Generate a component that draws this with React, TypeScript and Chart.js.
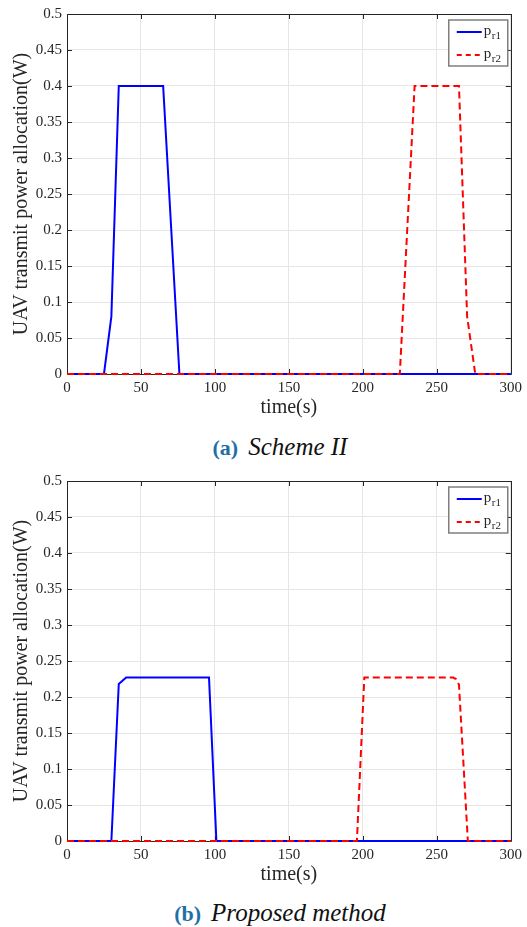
import React, { useEffect, useRef } from "react";
import { Chart, registerables } from "chart.js";

Chart.register(...registerables);

// ---------- data ----------
const legendBase = ["p", "p"];
const legendSub = ["r1", "r2"];
const seriesColors = ["#0000ff", "#ff0000"];

const xTicks = [0, 50, 100, 150, 200, 250, 300];
const yTicks = [0, 0.05, 0.1, 0.15, 0.2, 0.25, 0.3, 0.35, 0.4, 0.45, 0.5];
const xTickLabels = ["0", "50", "100", "150", "200", "250", "300"];
const yTickLabels = ["0", "0.05", "0.1", "0.15", "0.2", "0.25", "0.3", "0.35", "0.4", "0.45", "0.5"];

// (a) Scheme II
const schemeTime1 = [0, 25, 30, 35, 65, 76, 300];
const schemePower1 = [0, 0, 0.08, 0.4, 0.4, 0, 0];
const schemeTime2 = [0, 225, 235, 265, 270.5, 276, 300];
const schemePower2 = [0, 0, 0.4, 0.4, 0.08, 0, 0];

// (b) Proposed method
const proposedTime1 = [0, 30, 35, 40, 96, 101, 300];
const proposedPower1 = [0, 0, 0.218, 0.227, 0.227, 0, 0];
const proposedTime2 = [0, 196, 201, 261, 263, 265, 271, 300];
const proposedPower2 = [0, 0, 0.227, 0.227, 0.225, 0.217, 0, 0];

const FONT = "'Liberation Serif', 'Times New Roman', serif";
const INK = "#262626";

const framePlugin = {
  id: "matlabFrame",
  beforeDatasetsDraw(chart: any) {
    const { ctx, chartArea: a, scales } = chart;
    const tl = 5;
    ctx.save();
    ctx.strokeStyle = INK;
    ctx.lineWidth = 1;
    ctx.beginPath();
    for (const v of xTicks) {
      const x = Math.round(scales.x.getPixelForValue(v)) + 0.5;
      ctx.moveTo(x, a.bottom);
      ctx.lineTo(x, a.bottom - tl);
      ctx.moveTo(x, a.top);
      ctx.lineTo(x, a.top + tl);
    }
    for (const v of yTicks) {
      const y = Math.round(scales.y.getPixelForValue(v)) + 0.5;
      ctx.moveTo(a.left, y);
      ctx.lineTo(a.left + tl, y);
      ctx.moveTo(a.right, y);
      ctx.lineTo(a.right - tl, y);
    }
    ctx.stroke();
    ctx.beginPath();
    ctx.rect(Math.round(a.left) + 0.5, Math.round(a.top) + 0.5, Math.round(a.right - a.left), Math.round(a.bottom - a.top));
    ctx.stroke();
    ctx.restore();
  },
  afterDraw(chart: any) {
    const { ctx, chartArea: a } = chart;
    const bx = a.right - 62;
    const by = a.top + 6;
    const bw = 59;
    const bh = 46;
    ctx.save();
    ctx.fillStyle = "#ffffff";
    ctx.fillRect(bx, by, bw, bh);
    ctx.strokeStyle = "#7f7f7f";
    ctx.lineWidth = 1.5;
    ctx.strokeRect(bx, by, bw, bh);
    for (let i = 0; i < 2; i++) {
      const y = by + 12 + i * 23;
      ctx.strokeStyle = seriesColors[i];
      ctx.lineWidth = 2;
      ctx.setLineDash(i === 1 ? [5, 4] : []);
      ctx.beginPath();
      ctx.moveTo(bx + 8, y);
      ctx.lineTo(bx + 33, y);
      ctx.stroke();
      ctx.setLineDash([]);
      ctx.fillStyle = INK;
      ctx.textBaseline = "alphabetic";
      ctx.font = `15px ${FONT}`;
      ctx.fillText(legendBase[i], bx + 35, y + 3);
      const w = ctx.measureText(legendBase[i]).width;
      ctx.font = `11px ${FONT}`;
      ctx.fillText(legendSub[i], bx + 35 + w + 0.5, y + 7);
    }
    ctx.restore();
  },
};

function PowerChart(props: { t1: number[]; p1: number[]; t2: number[]; p2: number[] }) {
  const ref = useRef<HTMLCanvasElement | null>(null);
  useEffect(() => {
    if (!ref.current) return;
    const chart = new Chart(ref.current, {
      type: "line",
      data: {
        datasets: [
          {
            label: legendBase[0] + legendSub[0],
            data: props.t1.map((x, i) => ({ x, y: props.p1[i] })),
            borderColor: seriesColors[0],
            borderWidth: 2,
            pointRadius: 0,
            tension: 0,
            clip: 4,
            order: 1,
          },
          {
            label: legendBase[1] + legendSub[1],
            data: props.t2.map((x, i) => ({ x, y: props.p2[i] })),
            borderColor: seriesColors[1],
            borderWidth: 2,
            borderDash: [7, 4],
            pointRadius: 0,
            tension: 0,
            clip: 4,
            order: 0,
          },
        ],
      },
      options: {
        animation: false,
        responsive: false,
        devicePixelRatio: 1,
        layout: { padding: { top: 11, right: 15, left: 0, bottom: 0 } },
        plugins: { legend: { display: false }, tooltip: { enabled: false } },
        scales: {
          x: {
            type: "linear",
            min: 0,
            max: 300,
            afterBuildTicks: (s: any) => {
              s.ticks = xTicks.map((v) => ({ value: v }));
            },
            afterFit: (s: any) => {
              s.height = 46;
            },
            grid: { color: "#e6e6e6", drawTicks: false, lineWidth: 1 },
            border: { display: false },
            ticks: {
              padding: 5,
              color: INK,
              maxRotation: 0,
              autoSkip: false,
              font: { family: FONT, size: 15 },
              callback: (_v: any, i: number) => xTickLabels[i],
            },
            title: {
              display: true,
              text: "time(s)",
              color: INK,
              font: { family: FONT, size: 20 },
              padding: { top: 0, bottom: 0 },
            },
          },
          y: {
            type: "linear",
            min: 0,
            max: 0.5,
            afterBuildTicks: (s: any) => {
              s.ticks = yTicks.map((v) => ({ value: v }));
            },
            afterFit: (s: any) => {
              s.width = 67;
            },
            grid: { color: "#e6e6e6", drawTicks: false, lineWidth: 1 },
            border: { display: false },
            ticks: {
              padding: 5,
              color: INK,
              autoSkip: false,
              font: { family: FONT, size: 15 },
              callback: (_v: any, i: number) => yTickLabels[i],
            },
            title: {
              display: true,
              text: "UAV transmit power allocation(W)",
              color: INK,
              font: { family: FONT, size: 20 },
              padding: { top: 10, bottom: 0 },
            },
          },
        },
      },
      plugins: [framePlugin],
    } as any);
    return () => chart.destroy();
  }, []);
  return <canvas ref={ref} width={527} height={420} style={{ width: 527, height: 420, display: "block" }} />;
}

function Caption(props: { tag: string; text: string; top: number }) {
  return (
    <div
      style={{
        position: "absolute",
        left: 80,
        width: 400,
        top: props.top,
        textAlign: "center",
        fontFamily: FONT,
        whiteSpace: "nowrap",
        lineHeight: "30px",
      }}
    >
      <span style={{ fontWeight: "bold", color: "#1f6fa6", fontSize: 22 }}>{props.tag}</span>
      <span style={{ fontStyle: "italic", fontSize: 25, marginLeft: 10, color: "#111" }}>{props.text}</span>
    </div>
  );
}

export default function App() {
  return (
    <div style={{ position: "absolute", left: 0, top: 0, width: 527, height: 927, background: "#fff", overflow: "hidden" }}>
      <div style={{ position: "absolute", left: 0, top: 0 }}>
        <PowerChart t1={schemeTime1} p1={schemePower1} t2={schemeTime2} p2={schemePower2} />
      </div>
      <Caption tag="(a)" text="Scheme II" top={432} />
      <div style={{ position: "absolute", left: 0, top: 467 }}>
        <PowerChart t1={proposedTime1} p1={proposedPower1} t2={proposedTime2} p2={proposedPower2} />
      </div>
      <Caption tag="(b)" text="Proposed method" top={898} />
    </div>
  );
}
